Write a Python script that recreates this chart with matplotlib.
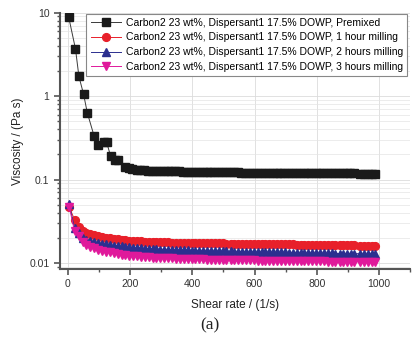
import matplotlib
matplotlib.use("Agg")
import matplotlib.pyplot as plt
from matplotlib.ticker import FixedLocator, LogLocator, NullFormatter, FuncFormatter

plt.rcParams['font.family'] = ['Liberation Sans', 'DejaVu Sans']

labels = [
    "Carbon2 23 wt%, Dispersant1 17.5% DOWP, Premixed",
    "Carbon2 23 wt%, Dispersant1 17.5% DOWP, 1 hour milling",
    "Carbon2 23 wt%, Dispersant1 17.5% DOWP, 2 hours milling",
    "Carbon2 23 wt%, Dispersant1 17.5% DOWP, 3 hours milling",
]

shear_premixed = [3, 25, 36, 51, 63, 85, 97, 115, 125, 138, 151, 163, 183, 196, 208, 221,
                  233, 246, 258, 271, 283, 296, 308, 321, 333, 346, 358, 371, 383, 396,
                  408, 421, 433, 446, 458, 471, 483, 496, 508, 521, 533, 546, 558, 571,
                  583, 596, 608, 621, 633, 646, 658, 671, 683, 696, 708, 721, 733, 746,
                  758, 771, 783, 796, 808, 821, 833, 846, 858, 871, 883, 896, 908, 918,
                  940, 952, 965, 977, 986]
visc_premixed = [8.9, 3.67, 1.72, 1.05, 0.63, 0.33, 0.26, 0.28, 0.28, 0.19, 0.17, 0.17, 0.14,
                 0.136, 0.133, 0.131, 0.13, 0.129, 0.128, 0.128, 0.127, 0.127, 0.126, 0.126,
                 0.125, 0.125, 0.125, 0.124, 0.124, 0.124, 0.124, 0.123, 0.123, 0.123,
                 0.123, 0.123, 0.122, 0.122, 0.122, 0.122, 0.122, 0.122, 0.121, 0.121,
                 0.121, 0.121, 0.121, 0.121, 0.121, 0.12, 0.12, 0.12, 0.12, 0.12, 0.12,
                 0.12, 0.12, 0.12, 0.12, 0.12, 0.119, 0.119, 0.119, 0.119, 0.119, 0.119,
                 0.119, 0.119, 0.119, 0.119, 0.119, 0.119, 0.118, 0.118, 0.118, 0.118, 0.118]

shear_milled = [5, 22, 35, 48, 60, 73, 85, 98, 110, 123, 135, 148, 160, 173, 185, 198, 210,
                223, 235, 248, 260, 273, 285, 298, 310, 323, 335, 348, 360, 373, 385, 398,
                410, 423, 435, 448, 460, 473, 485, 498, 510, 523, 535, 548, 560, 573, 585,
                598, 610, 623, 635, 648, 660, 673, 685, 698, 710, 723, 735, 748, 760, 773,
                785, 798, 810, 823, 835, 848, 860, 873, 885, 898, 910, 920, 940, 952, 965,
                977, 986]
visc_1h = [0.047, 0.033, 0.027, 0.024, 0.023, 0.022, 0.0215, 0.021, 0.0205, 0.0201, 0.0198,
           0.0195, 0.0192, 0.019, 0.0188, 0.0186, 0.0184, 0.0183, 0.0182, 0.0181, 0.018,
           0.0179, 0.0178, 0.0178, 0.0177, 0.0177, 0.0176, 0.0176, 0.0175, 0.0175, 0.0175,
           0.0174, 0.0174, 0.0174, 0.0173, 0.0173, 0.0173, 0.0172, 0.0172, 0.0172, 0.0171,
           0.0171, 0.0171, 0.017, 0.017, 0.017, 0.017, 0.0169, 0.0169, 0.0169, 0.0168,
           0.0168, 0.0168, 0.0168, 0.0167, 0.0167, 0.0167, 0.0167, 0.0166, 0.0166, 0.0166,
           0.0166, 0.0165, 0.0165, 0.0165, 0.0165, 0.0164, 0.0164, 0.0164, 0.0164, 0.0163,
           0.0163, 0.0163, 0.0163, 0.0162, 0.0162, 0.0162, 0.0162, 0.0162]
visc_2h = [0.051, 0.026, 0.023, 0.02, 0.019, 0.0185, 0.018, 0.0175, 0.0171, 0.0168, 0.0165,
           0.0162, 0.016, 0.0158, 0.0156, 0.0154, 0.0152, 0.0151, 0.015, 0.0149, 0.0148,
           0.0147, 0.0146, 0.0145, 0.0145, 0.0144, 0.0144, 0.0143, 0.0143, 0.0142, 0.0142,
           0.0141, 0.0141, 0.014, 0.014, 0.014, 0.0139, 0.0139, 0.0139, 0.0138, 0.0138,
           0.0138, 0.0137, 0.0137, 0.0137, 0.0136, 0.0136, 0.0136, 0.0135, 0.0135, 0.0135,
           0.0135, 0.0134, 0.0134, 0.0134, 0.0134, 0.0133, 0.0133, 0.0133, 0.0133, 0.0132,
           0.0132, 0.0132, 0.0132, 0.0131, 0.0131, 0.0131, 0.0131, 0.013, 0.013, 0.013,
           0.013, 0.013, 0.013, 0.0129, 0.0129, 0.0129, 0.0129, 0.0129]
visc_3h = [0.047, 0.024, 0.021, 0.018, 0.0165, 0.0155, 0.015, 0.0145, 0.0141, 0.0137, 0.0134,
           0.0131, 0.0128, 0.0126, 0.0124, 0.0122, 0.0121, 0.012, 0.0119, 0.0118, 0.0117,
           0.0116, 0.0116, 0.0115, 0.0115, 0.0114, 0.0114, 0.0113, 0.0113, 0.0112, 0.0112,
           0.0112, 0.0111, 0.0111, 0.0111, 0.011, 0.011, 0.011, 0.011, 0.0109, 0.0109,
           0.0109, 0.0109, 0.0108, 0.0108, 0.0108, 0.0108, 0.0108, 0.0107, 0.0107, 0.0107,
           0.0107, 0.0107, 0.0106, 0.0106, 0.0106, 0.0106, 0.0106, 0.0106, 0.0105, 0.0105,
           0.0105, 0.0105, 0.0105, 0.0105, 0.0105, 0.0104, 0.0104, 0.0104, 0.0104, 0.0104,
           0.0104, 0.0104, 0.0104, 0.0103, 0.0103, 0.0103, 0.0103, 0.0103]

x_ticks = [0, 200, 400, 600, 800, 1000]
y_ticks = [0.01, 0.1, 1, 10]

fig = plt.figure(figsize=(4.19, 3.40), dpi=100)
ax = fig.add_axes([0.143, 0.209, 0.836, 0.754])

ax.plot(shear_premixed, visc_premixed, color='#3a3a3a', lw=0.7, marker='s', ms=5.4,
        mfc='#1a1a1a', mec='#1a1a1a', label=labels[0], zorder=3)
ax.plot(shear_milled, visc_1h, color='#e8202a', lw=0.7, marker='o', ms=5.6,
        mfc='#e8202a', mec='#e8202a', label=labels[1], zorder=3)
ax.plot(shear_milled, visc_2h, color='#2b2f8f', lw=0.7, marker='^', ms=5.8,
        mfc='#2b2f8f', mec='#2b2f8f', label=labels[2], zorder=3)
ax.plot(shear_milled, visc_3h, color='#e0199b', lw=0.7, marker='v', ms=5.8,
        mfc='#e0199b', mec='#e0199b', label=labels[3], zorder=3)

ax.set_yscale('log')
ax.set_xlim(-25, 1100)
ax.set_ylim(0.0085, 10)

ax.xaxis.set_major_locator(FixedLocator(x_ticks))
ax.xaxis.set_minor_locator(FixedLocator([100, 300, 500, 700, 900, 1100]))
ax.yaxis.set_major_locator(FixedLocator(y_ticks))
ax.yaxis.set_minor_locator(LogLocator(base=10, subs=range(2, 10)))
ax.yaxis.set_minor_formatter(NullFormatter())
ax.yaxis.set_major_formatter(FuncFormatter(lambda v, p: f"{v:g}"))

for s in ['top', 'right']:
    ax.spines[s].set_visible(False)
for s in ['left', 'bottom']:
    ax.spines[s].set_color('#555555')
    ax.spines[s].set_linewidth(1.5)

ax.tick_params(which='major', direction='out', length=4, width=1.2, color='#555555',
               labelsize=7.5, labelcolor='#333333')
ax.tick_params(which='minor', direction='out', length=2.5, width=1.0, color='#555555')

ax.grid(True, which='major', color='#dcdcdc', lw=0.6)
ax.grid(True, which='minor', axis='y', color='#e4e4e4', lw=0.5)
ax.set_axisbelow(True)

ax.set_xlabel("Shear rate / (1/s)", fontsize=8.5, color='#222222', labelpad=7)
ax.set_ylabel("Viscosity / (Pa s)", fontsize=8.5, color='#222222', labelpad=4)

leg = ax.legend(loc='upper right', fontsize=7.5, frameon=True, fancybox=False,
                edgecolor='#888888', borderpad=0.4, borderaxespad=0.1,
                handlelength=2.9, handletextpad=0.5,
                labelspacing=0.45, bbox_to_anchor=(0.995, 1.0), framealpha=1)
leg.get_frame().set_linewidth(0.8)

fig.text(0.5, 0.02, "(a)", fontsize=12.5, family=['Liberation Serif', 'DejaVu Serif'],
         ha='center', va='bottom', color='#222222')

fig.savefig("out.png", dpi=100)
